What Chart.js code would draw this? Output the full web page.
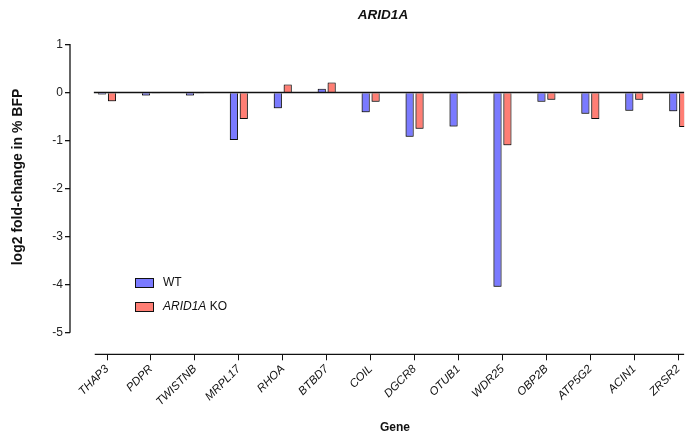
<!DOCTYPE html>
<html>
<head>
<meta charset="utf-8">
<script src="https://cdn.jsdelivr.net/npm/chart.js@4"></script>
<style>
html,body{margin:0;padding:0;background:#fff;overflow:hidden;}
canvas{display:block;}
</style>
</head>
<body>
<canvas id="c" width="690" height="443"></canvas>
<script>
const genes = ["THAP3","PDPR","TWISTNB","MRPL17","RHOA","BTBD7","COIL","DGCR8","OTUB1","WDR25","OBP2B","ATP5G2","ACIN1","ZRSR2"];
const wtValues = [-0.04,-0.06,-0.06,-0.99,-0.33,0.08,-0.41,-0.92,-0.71,-4.05,-0.19,-0.44,-0.38,-0.39];
const koValues = [-0.18,-0.02,-0.02,-0.55,0.17,0.21,-0.19,-0.755,-0.01,-1.10,-0.15,-0.55,-0.15,-0.72];
const yTickValues = [1,0,-1,-2,-3,-4,-5];
const seriesLabels = ["WT","ARID1A KO"];
const chartTitle = "ARID1A";
const xTitle = "Gene";
const yTitle = "log2 fold-change in % BFP";

const WT_COLOR = "rgb(122,122,255)";
const KO_COLOR = "rgb(255,126,116)";
const FONT = "'Liberation Sans', Arial, sans-serif";

const decor = {
  id: "decor",
  beforeDatasetsDraw(chart) {
    const ctx = chart.ctx;
    ctx.save();
    ctx.shadowColor = "rgba(0,0,0,0.5)";
    ctx.shadowBlur = 2;
    ctx.shadowOffsetX = -0.5;
    ctx.shadowOffsetY = 0.8;
  },
  afterDatasetsDraw(chart) {
    const ctx = chart.ctx;
    ctx.restore();
    const x = chart.scales.x, y = chart.scales.y;
    const ca = chart.chartArea;
    ctx.save();
    ctx.strokeStyle = "#111";
    // zero line
    ctx.lineWidth = 1.5;
    ctx.beginPath();
    ctx.moveTo(x.getPixelForValue(-0.3), y.getPixelForValue(0));
    ctx.lineTo(ca.right, y.getPixelForValue(0));
    ctx.stroke();
    // y axis line
    ctx.lineWidth = 1.3;
    ctx.beginPath();
    ctx.moveTo(ca.left, y.getPixelForValue(yTickValues[0]) - 0.5);
    ctx.lineTo(ca.left, y.getPixelForValue(yTickValues[yTickValues.length-1]) + 0.5);
    ctx.stroke();
    // x axis line
    ctx.beginPath();
    ctx.moveTo(x.getPixelForValue(-0.28), ca.bottom);
    ctx.lineTo(ca.right, ca.bottom);
    ctx.stroke();

    // legend
    const colors = [WT_COLOR, KO_COLOR];
    const ly = [283, 307];
    ctx.font = "12px " + FONT;
    ctx.textBaseline = "middle";
    for (let i = 0; i < 2; i++) {
      ctx.fillStyle = colors[i];
      ctx.fillRect(135, ly[i] - 5, 19, 10);
      ctx.lineWidth = 1;
      ctx.strokeStyle = "#111";
      ctx.strokeRect(135.5, ly[i] - 4.5, 18, 9);
    }
    ctx.fillStyle = "#111";
    ctx.textAlign = "left";
    ctx.fillText(seriesLabels[0], 163, ly[0]);
    const parts = seriesLabels[1].split(" ");
    ctx.font = "italic 12px " + FONT;
    ctx.fillText(parts[0], 163, ly[1]);
    const w = ctx.measureText(parts[0] + " ").width;
    ctx.font = "12px " + FONT;
    ctx.fillText(parts.slice(1).join(" "), 163 + w, ly[1]);

    // title
    ctx.font = "bold italic 13.5px " + FONT;
    ctx.textAlign = "center";
    ctx.fillText(chartTitle, 383, 15);
    // x title
    ctx.font = "bold 12px " + FONT;
    ctx.fillText(xTitle, 395, 428);
    // y title
    ctx.font = "bold 14px " + FONT;
    ctx.translate(18, 177);
    ctx.rotate(-Math.PI / 2);
    ctx.fillText(yTitle, 0, 0);
    ctx.restore();
  }
};

new Chart(document.getElementById("c"), {
  type: "bar",
  data: {
    datasets: [
      { label: seriesLabels[0], data: wtValues.map((v, i) => ({x: i, y: v})),
        backgroundColor: WT_COLOR, borderColor: "#111", borderWidth: 1,
        categoryPercentage: 0.451, barPercentage: 0.82 },
      { label: seriesLabels[1], data: koValues.map((v, i) => ({x: i, y: v})),
        backgroundColor: KO_COLOR, borderColor: "#111", borderWidth: 1,
        categoryPercentage: 0.451, barPercentage: 0.82 }
    ]
  },
  options: {
    responsive: false,
    animation: false,
    devicePixelRatio: 1,
    layout: { padding: { top: 44.6, right: 0, left: 0, bottom: 0 } },
    plugins: { legend: { display: false }, title: { display: false }, tooltip: { enabled: false } },
    scales: {
      x: {
        type: "linear",
        offset: false,
        min: -0.843, max: 13.134,
        afterBuildTicks: (s) => { s.ticks = genes.map((g, i) => ({ value: i })); },
        afterFit: (s) => { s.height = 88.7; },
        border: { display: false },
        grid: { offset: false, drawOnChartArea: false, drawTicks: true, tickLength: 6, color: "#111", lineWidth: 1 },
        ticks: {
          autoSkip: false, minRotation: 45, maxRotation: 45, includeBounds: false,
          padding: 2, color: "#111",
          font: { family: FONT, size: 11.5, style: "italic" },
          callback: (v) => genes[v]
        }
      },
      y: {
        min: -5.459, max: 1,
        afterFit: (s) => { s.width = 70; },
        afterBuildTicks: (s) => { s.ticks = yTickValues.map(v => ({ value: v })); },
        border: { display: false },
        grid: { drawOnChartArea: false, drawTicks: true, tickLength: 5, color: "#111", lineWidth: 1.3 },
        ticks: { includeBounds: false, padding: 2, color: "#222", font: { family: FONT, size: 12 } }
      }
    }
  },
  plugins: [decor]
});
</script>
</body>
</html>
